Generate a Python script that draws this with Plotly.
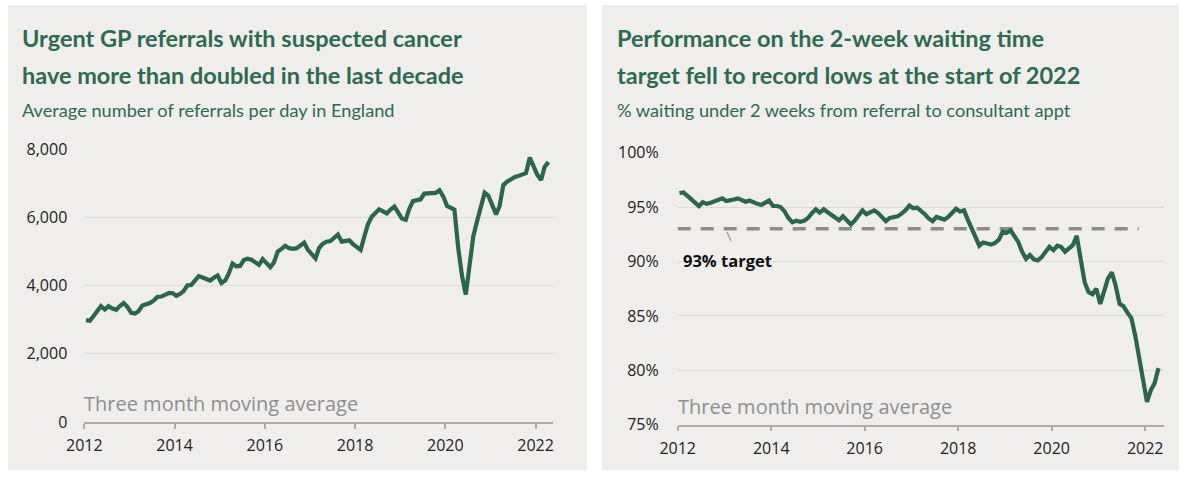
import plotly.graph_objects as go
import pandas as pd

# ---- data ----
months = [d.strftime("%Y-%m-15") for d in pd.date_range("2012-01-01", "2022-04-01", freq="MS")]

referrals = [
    2990, 2970, 3100, 3260, 3400, 3300, 3400, 3330, 3290, 3400, 3490, 3380,
    3200, 3180, 3250, 3420, 3450, 3490, 3560, 3670, 3680, 3740, 3780, 3780,
    3700, 3760, 3840, 4010, 4020, 4150, 4280, 4240, 4210, 4150, 4230, 4300,
    4080, 4150, 4350, 4650, 4570, 4580, 4750, 4790, 4760, 4700, 4610, 4780,
    4650, 4540, 4680, 5000, 5080, 5170, 5100, 5080, 5100, 5180, 5260, 5050,
    4900, 4800, 5100, 5230, 5290, 5310, 5400, 5500, 5290, 5310, 5330, 5220,
    5120, 5050, 5420, 5800, 6020, 6150, 6240, 6180, 6120, 6230, 6320, 6150,
    5970, 5930, 6250, 6480, 6500, 6530, 6700, 6710, 6700, 6720, 6800, 6620,
    6340, 6280, 6230, 5100, 4300, 3740, 4700, 5450, 5900, 6300, 6730, 6640,
    6350, 6090, 6330, 6950, 7050, 7120, 7180, 7220, 7260, 7300, 7760, 7500,
    7250, 7100, 7480, 7630,
]

performance = [
    96.3, 96.35, 96.05, 95.7, 95.4, 95.1, 95.45, 95.3, 95.4, 95.5, 95.6, 95.8,
    95.55, 95.6, 95.7, 95.8, 95.6, 95.5, 95.6, 95.4, 95.3, 95.2, 95.4, 95.6,
    95.1, 95.1, 95.0, 94.6, 94.0, 93.6, 93.75, 93.65, 93.75, 94.0, 94.45, 94.8,
    94.5, 94.8, 94.55, 94.3, 94.0, 93.8, 94.15, 93.8, 93.4, 93.75, 94.2, 94.7,
    94.35, 94.5, 94.7, 94.45, 94.1, 93.7, 94.0, 94.05, 94.15, 94.4, 94.7, 95.15,
    94.9, 94.95, 94.7, 94.35, 93.95, 93.7, 94.1, 94.0, 93.85, 94.1, 94.5, 94.85,
    94.6, 94.7, 93.9, 93.1, 92.2, 91.45, 91.75, 91.65, 91.55, 91.7, 92.0, 92.75,
    92.65, 92.85, 92.3, 91.8, 90.9, 90.25, 90.6, 90.2, 90.1, 90.4, 90.9, 91.35,
    91.05, 91.45, 91.35, 90.9, 91.2, 91.5, 92.35, 90.1, 88.1, 87.2, 87.0, 87.5,
    86.1, 87.3, 88.4, 89.0, 87.8, 86.1, 85.9, 85.3, 84.8, 83.2, 81.2, 79.2,
    77.1, 78.2, 78.8, 80.2,
]

target_x = ["2012-01-01", "2021-11-12"]
target_y = [93, 93]

left_yticks = [0, 2000, 4000, 6000, 8000]
left_yticktext = ["0", "2,000", "4,000", "6,000", "8,000"]
right_yticks = [75, 80, 85, 90, 95, 100]
right_yticktext = ["75%", "80%", "85%", "90%", "95%", "100%"]
xtick_vals = ["2012-01-01", "2014-01-01", "2016-01-01", "2018-01-01", "2020-01-01", "2022-01-01"]
xtick_text = ["2012", "2014", "2016", "2018", "2020", "2022"]

# ---- style ----
W, H = 1200, 482
GREEN = "#2b654b"
TITLE_GREEN = "#2d6a4f"
PANEL = "#efeeec"
GRID = "#dcdbd9"
AXIS = "#adadad"
TITLE_FONT = "Lato"
TICK_FONT = "Open Sans"


def px(x):
    return x / W


def py(y):
    return 1 - y / H


fig = go.Figure()

fig.add_trace(go.Scatter(x=months, y=referrals, mode="lines", xaxis="x", yaxis="y",
                         line=dict(color=GREEN, width=4.2), hoverinfo="skip"))
fig.add_trace(go.Scatter(x=target_x, y=target_y, mode="lines", xaxis="x2", yaxis="y2",
                         line=dict(color="#8c8c8c", width=3.5, dash="13px,10px"), hoverinfo="skip"))
fig.add_trace(go.Scatter(x=months, y=performance, mode="lines", xaxis="x2", yaxis="y2",
                         line=dict(color=GREEN, width=4.2), hoverinfo="skip"))

tickfont = dict(family=TICK_FONT, size=16, color="#222222")

xcommon = dict(type="date", tickmode="array", tickvals=xtick_vals, ticktext=xtick_text, showgrid=False,
               showline=True, linecolor=AXIS, linewidth=1.5, ticks="outside", ticklen=5,
               tickcolor=AXIS, tickwidth=1.5, tickfont=tickfont, zeroline=False,
               ticklabelstandoff=3, automargin=False)
ycommon = dict(showgrid=True, gridcolor=GRID, gridwidth=1.3, zeroline=False, showline=False,
               ticks="", tickfont=tickfont, tickmode="array", automargin=False)

fig.update_layout(
    template="none",
    width=W, height=H,
    autosize=False,
    margin=dict(l=0, r=0, t=0, b=0, pad=0),
    paper_bgcolor="white",
    plot_bgcolor="rgba(0,0,0,0)",
    showlegend=False,
    xaxis=dict(xcommon, domain=[px(84.3), px(553)], range=["2012-01-01", "2022-05-22"], anchor="y"),
    yaxis=dict(ycommon, domain=[py(422), py(149.3)], range=[0, 8000], tickvals=left_yticks,
               ticktext=left_yticktext, anchor="x", ticklabelstandoff=16),
    xaxis2=dict(xcommon, domain=[px(677.7), px(1164)], range=["2012-01-01", "2022-05-28"], anchor="y2"),
    yaxis2=dict(ycommon, domain=[py(424.7), py(152.7)], range=[75, 100], tickvals=right_yticks,
                ticktext=right_yticktext, anchor="x2", ticklabelstandoff=18),
    shapes=[
        dict(type="rect", xref="paper", yref="paper", x0=px(8), x1=px(587), y0=py(470), y1=py(5),
             fillcolor=PANEL, line=dict(width=0), layer="below"),
        dict(type="rect", xref="paper", yref="paper", x0=px(602), x1=px(1179), y0=py(470), y1=py(5),
             fillcolor=PANEL, line=dict(width=0), layer="below"),
        dict(type="line", xref="paper", yref="paper", x0=px(727), y0=py(232), x1=px(731), y1=py(241),
             line=dict(color="#9a9a9a", width=1.2)),
    ],
)

ann = []


def text(x, y, s, size, color, family, bold=False):
    ann.append(dict(xref="paper", yref="paper", x=px(x), y=py(y), xanchor="left", yanchor="middle",
                    showarrow=False, text=f"<b>{s}</b>" if bold else s, borderpad=0,
                    font=dict(family=family, size=size, color=color)))


text(21, 38, "Urgent GP referrals with suspected cancer", 23.5, TITLE_GREEN, TITLE_FONT, True)
text(21, 75, "have more than doubled in the last decade", 23.5, TITLE_GREEN, TITLE_FONT, True)
text(21, 110, "Average number of referrals per day in England", 18.2, TITLE_GREEN, TITLE_FONT)
text(616, 38, "Performance on the 2-week waiting time", 23.5, TITLE_GREEN, TITLE_FONT, True)
text(616, 75, "target fell to record lows at the start of 2022", 23.5, TITLE_GREEN, TITLE_FONT, True)
text(616, 110, "% waiting under 2 weeks from referral to consultant appt", 18.2, TITLE_GREEN, TITLE_FONT)
text(83, 403, "Three month moving average", 20, "#8e8e8e", TICK_FONT)
text(677, 406, "Three month moving average", 20, "#8e8e8e", TICK_FONT)
text(682, 260, "93% target", 16.5, "#111111", TICK_FONT, True)

fig.update_layout(annotations=ann)

fig.write_html("out.html")
